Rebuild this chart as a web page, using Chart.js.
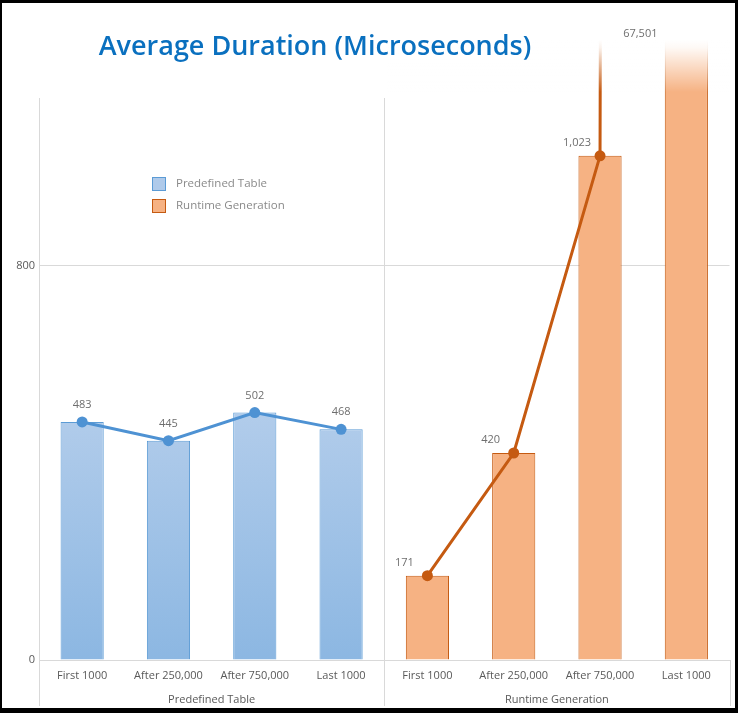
<!DOCTYPE html>
<html>
<head>
<meta charset="utf-8">
<title>Average Duration (Microseconds)</title>
<script src="https://cdn.jsdelivr.net/npm/chart.js@4.4.0/dist/chart.umd.min.js"></script>
<style>
    html, body {
        margin: 0;
        padding: 0;
        background: #fff;
    }

    #frame {
        position: relative;
        width: 738px;
        height: 713px;
        box-sizing: border-box;
        border-style: solid;
        border-color: #000;
        border-width: 3px 3px 5px 2px;
        background: #fff;
    }

    #durationChart {
        display: block;
        width: 733px;
        height: 705px;
    }
</style>
</head>
<body>
<div id="frame"><canvas id="durationChart" width="733" height="705"></canvas></div>
<script>
const categories = [
    "First 1000", "After 250,000", "After 750,000", "Last 1000",
    "First 1000", "After 250,000", "After 750,000", "Last 1000"
];
const groupLabels = ["Predefined Table", "Runtime Generation"];
const predefinedValues = [483, 445, 502, 468];
const runtimeValues = [171, 420, 1023, 67501];
const yTicks = [0, 800];

const FONT = "'Open Sans', 'Noto Sans', sans-serif";
const BLUE = "#4e92d3";
const BLUE_EDGE = "#5b9bd5";
const ORANGE = "#c55a11";
const ORANGE_FILL = "#f6b283";

// each group fills its own half of the category axis
const blank = new Array(predefinedValues.length).fill(null);
const predefinedSeries = predefinedValues.concat(blank);
const runtimeSeries = blank.concat(runtimeValues);

const chartCanvas = document.getElementById("durationChart");

function blueGradient(context) {
    const chart = context.chart;
    const area = chart.chartArea;
    if (!area) {
        return "#a4c4e7";
    }
    const top = chart.scales.y.getPixelForValue(520);
    const g = chart.ctx.createLinearGradient(0, top, 0, area.bottom);
    g.addColorStop(0, "#b3cdeb");
    g.addColorStop(1, "#8cb7e2");
    return g;
}

const labelOffsets = {
    2: { dx: 0, dy: -17 },
    3: { dx: -23, dy: -13 }
};

const decorations = {
    id: "decorations",

    beforeDatasetsDraw(chart) {
        const { ctx, chartArea, scales } = chart;
        const x = scales.x;
        const midX = Math.round((x.getPixelForValue(3) + x.getPixelForValue(4)) / 2) + 0.5;
        const leftX = Math.round(chartArea.left) + 0.5;
        const rightX = Math.round(chartArea.right) + 0.5;
        const bottom = chart.height - 2;

        ctx.save();
        ctx.strokeStyle = "#d9d9d9";
        ctx.lineWidth = 1;
        ctx.beginPath();
        ctx.moveTo(leftX, 95);
        ctx.lineTo(leftX, bottom);
        ctx.moveTo(midX, 95);
        ctx.lineTo(midX, bottom);
        ctx.moveTo(rightX, chartArea.bottom);
        ctx.lineTo(rightX, bottom);
        ctx.stroke();
        ctx.restore();
    },

    afterDatasetsDraw(chart) {
        const { ctx, chartArea, scales } = chart;
        const x = scales.x;
        const midX = (x.getPixelForValue(3) + x.getPixelForValue(4)) / 2;

        // the runaway last value fades out at the top
        ctx.save();
        const fade = ctx.createLinearGradient(0, chartArea.top, 0, chartArea.top + 52);
        fade.addColorStop(0, "rgba(255,255,255,1)");
        fade.addColorStop(0.15, "rgba(255,255,255,0.92)");
        fade.addColorStop(1, "rgba(255,255,255,0)");
        ctx.fillStyle = fade;
        ctx.fillRect(midX + 2, chartArea.top - 6, chartArea.right - midX, 58);
        ctx.restore();

        // value labels
        ctx.save();
        ctx.font = `11px ${FONT}`;
        ctx.fillStyle = "#6e6e6e";
        ctx.textAlign = "center";
        ctx.textBaseline = "middle";
        chart.data.datasets.forEach((ds, i) => {
            const off = labelOffsets[i];
            if (!off) {
                return;
            }
            const meta = chart.getDatasetMeta(i);
            meta.data.forEach((pt, j) => {
                const v = ds.data[j];
                if (v == null) {
                    return;
                }
                let lx = pt.x + off.dx;
                let ly = pt.y + off.dy;
                if (pt.y < chartArea.top) {
                    lx = pt.x - 46;
                    ly = chartArea.top - 6;
                }
                ctx.fillText(v.toLocaleString("en-US"), lx, ly);
            });
        });
        ctx.restore();
    },

    afterDraw(chart) {
        const { ctx } = chart;

        ctx.save();
        ctx.font = `600 27px ${FONT}`;
        ctx.fillStyle = "#0a70bf";
        ctx.textAlign = "center";
        ctx.textBaseline = "middle";
        ctx.fillText("Average Duration (Microseconds)", 313, 44);
        ctx.restore();

        // legend for the two bar series
        ctx.save();
        ctx.font = `11.5px ${FONT}`;
        ctx.textBaseline = "middle";
        const bars = chart.data.datasets.filter(ds => ds.type === "bar");
        bars.forEach((ds, k) => {
            const top = 174 + k * 22;
            ctx.fillStyle = ds.legendFill;
            ctx.fillRect(150, top, 14, 14);
            ctx.strokeStyle = ds.borderColor;
            ctx.lineWidth = 1;
            ctx.strokeRect(150.5, top + 0.5, 13, 13);
            ctx.fillStyle = "#8a8a8a";
            ctx.fillText(ds.label, 174, top + 7);
        });
        ctx.restore();
    }
};

const tickFont = { family: FONT, size: 11 };

const durationChart = new Chart(chartCanvas, {
    data: {
        labels: categories,
        datasets: [
            {
                type: "bar",
                label: groupLabels[0],
                data: predefinedSeries,
                backgroundColor: blueGradient,
                legendFill: "#afcaea",
                borderColor: BLUE_EDGE,
                borderWidth: 1,
                grouped: false,
                barPercentage: 0.5,
                categoryPercentage: 1,
                order: 2
            },
            {
                type: "bar",
                label: groupLabels[1],
                data: runtimeSeries,
                backgroundColor: ORANGE_FILL,
                legendFill: ORANGE_FILL,
                borderColor: ORANGE,
                borderWidth: 1,
                grouped: false,
                barPercentage: 0.5,
                categoryPercentage: 1,
                order: 2
            },
            {
                type: "line",
                label: groupLabels[0],
                data: predefinedSeries,
                borderColor: BLUE,
                backgroundColor: BLUE,
                borderWidth: 3,
                pointRadius: 5.5,
                pointBorderWidth: 0,
                tension: 0,
                spanGaps: false,
                order: 1
            },
            {
                type: "line",
                label: groupLabels[1],
                data: runtimeSeries,
                borderColor: ORANGE,
                backgroundColor: ORANGE,
                borderWidth: 3,
                pointRadius: 5.5,
                pointBorderWidth: 0,
                tension: 0,
                spanGaps: false,
                order: 1
            }
        ]
    },

    options: {
        responsive: false,
        animation: false,
        events: [],

        layout: {
            padding: { top: 37, right: 4, left: 0, bottom: 0 }
        },

        plugins: {
            legend: { display: false },
            tooltip: { enabled: false }
        },

        scales: {
            x: {
                type: "category",
                offset: true,
                grid: { display: false, drawTicks: false },
                border: { display: true, color: "#d9d9d9" },
                ticks: {
                    color: "#595959",
                    font: tickFont,
                    padding: 9,
                    maxRotation: 0,
                    autoSkip: false
                },
                afterFit(scale) {
                    scale.height = 24;
                }
            },

            x2: {
                type: "category",
                position: "bottom",
                labels: groupLabels,
                offset: true,
                grid: { display: false, drawTicks: false },
                border: { display: false },
                ticks: {
                    color: "#595959",
                    font: tickFont,
                    padding: 9,
                    maxRotation: 0
                },
                afterFit(scale) {
                    scale.height = 24;
                }
            },

            y: {
                min: 0,
                max: 1258,
                afterBuildTicks(scale) {
                    scale.ticks = yTicks.map(v => ({ value: v }));
                },
                grid: {
                    drawTicks: false,
                    color(ctx) {
                        return ctx.tick && ctx.tick.value === 0 ? "rgba(0,0,0,0)" : "#d9d9d9";
                    }
                },
                border: { display: false },
                ticks: {
                    color: "#595959",
                    font: tickFont,
                    padding: 4
                },
                afterFit(scale) {
                    scale.width = 37;
                }
            }
        }
    },

    plugins: [decorations]
});
</script>
</body>
</html>
